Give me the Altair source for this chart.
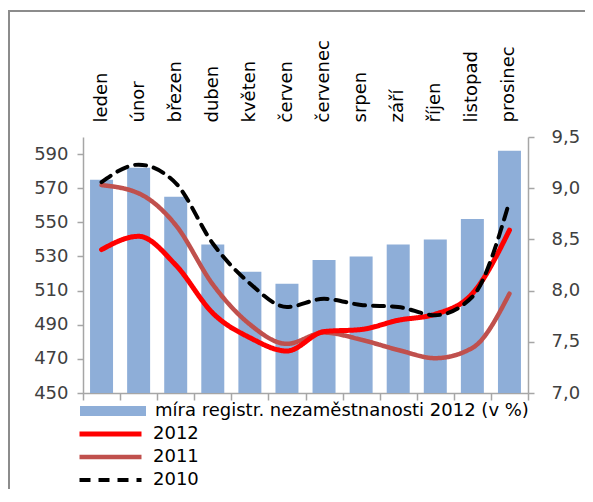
import altair as alt
import pandas as pd

# ---- data ----
months = ["leden", "únor", "březen", "duben", "květen", "červen",
          "červenec", "srpen", "září", "říjen", "listopad", "prosinec"]
bar_values = [575, 582, 565, 537, 521, 514, 528, 530, 537, 540, 552, 592]
rate_2012 = [8.40, 8.53, 8.25, 7.78, 7.54, 7.41, 7.60, 7.62, 7.71, 7.77, 7.97, 8.59]
rate_2011 = [9.03, 8.95, 8.64, 8.06, 7.67, 7.48, 7.59, 7.52, 7.42, 7.34, 7.44, 7.97]
rate_2010 = [9.06, 9.23, 9.05, 8.46, 8.07, 7.84, 7.92, 7.86, 7.84, 7.76, 7.94, 8.87]
bar_label = "míra registr. nezaměstnanosti 2012 (v %)"
series_names = ["2012", "2011", "2010"]
left_ticks = [450, 470, 490, 510, 530, 550, 570, 590]
right_ticks = [7.0, 7.5, 8.0, 8.5, 9.0, 9.5]

df_bars = pd.DataFrame({"month": months, "value": bar_values, "series": bar_label})
df_lines = pd.DataFrame({
    "month": months * 3,
    "rate": rate_2012 + rate_2011 + rate_2010,
    "series": ["2012"] * 12 + ["2011"] * 12 + ["2010"] * 12,
})

FONT = "DejaVu Sans"
GRAY = "#A6A6A6"

x_scale = alt.Scale(domain=months, paddingInner=0, paddingOuter=0)

bars = alt.Chart(df_bars).mark_bar(width=alt.RelativeBandSize(0.62), clip=True).encode(
    x=alt.X("month:N", sort=months, scale=x_scale, title=None,
            axis=alt.Axis(orient="top", labelAngle=-90, labelAlign="left",
                          labelBaseline="middle", ticks=False, tickSize=0,
                          domain=False, labelPadding=15, labelColor="black")),
    y=alt.Y("value:Q", scale=alt.Scale(domain=[450, 600], nice=False, zero=False),
            title=None,
            axis=alt.Axis(orient="left", values=left_ticks, tickSize=6,
                          labelPadding=9, grid=False)),
    fill=alt.Fill("series:N",
                  scale=alt.Scale(domain=[bar_label], range=["#8EAED8"]),
                  legend=alt.Legend(orient="none", legendX=-3, legendY=264, title=None,
                                    symbolType="M-1,-0.15H1V0.15H-1Z", symbolSize=4356,
                                    symbolStrokeWidth=0, clipHeight=20, labelOffset=9,
                                    labelFontSize=18, labelFont=FONT, labelColor="black",
                                    labelLimit=600, padding=0)),
)

color_scale = alt.Scale(domain=series_names, range=["#FF0000", "#C0504D", "#000000"])
dash_scale = alt.Scale(domain=series_names, range=[[1, 0], [1, 0], [11, 8]])
width_scale = alt.Scale(domain=series_names, range=[5, 4, 4])
line_legend = alt.Legend(orient="none", legendX=-6, legendY=287, title=None,
                         symbolType="stroke", symbolSize=3844, clipHeight=20,
                         rowPadding=3, labelOffset=9, labelFontSize=18, labelFont=FONT,
                         labelColor="black", padding=0)
bottom_axis = alt.Axis(orient="bottom", labels=False, tickBand="extent", tickSize=7)
right_axis = alt.Axis(orient="right", values=right_ticks, tickSize=6, labelPadding=17,
                      grid=False,
                      labelExpr="replace(format(datum.value, '.1f'), '.', ',')")
y2_scale = alt.Scale(domain=[7, 9.5], nice=False, zero=False)


def line_layer(name):
    return alt.Chart(df_lines).transform_filter(alt.datum.series == name).mark_line(
        interpolate="monotone", strokeCap="round", strokeJoin="round"
    ).encode(
        x=alt.X("month:N", sort=months, scale=x_scale, title=None, axis=bottom_axis),
        y=alt.Y("rate:Q", scale=y2_scale, title=None, axis=right_axis),
        color=alt.Color("series:N", scale=color_scale, legend=line_legend),
        strokeDash=alt.StrokeDash("series:N", scale=dash_scale, legend=line_legend),
        strokeWidth=alt.StrokeWidth("series:N", scale=width_scale, legend=line_legend),
    )


lines = alt.layer(line_layer("2011"), line_layer("2012"), line_layer("2010"))

frame_src = pd.DataFrame({"k": [0]})
frame_h = alt.Chart(frame_src).mark_rule(color="#8C8C8C", strokeWidth=2).encode(
    x=alt.value(-75), x2=alt.value(700), y=alt.value(-126))
frame_v = alt.Chart(frame_src).mark_rule(color="#8C8C8C", strokeWidth=2).encode(
    x=alt.value(-74), y=alt.value(-126), y2=alt.value(500))

chart = alt.layer(frame_h, frame_v, bars, lines).resolve_scale(
    y="independent"
).resolve_axis(
    x="independent"
).properties(
    width=445, height=256,
    padding={"left": 75, "top": 129, "right": 57, "bottom": 96},
    autosize=alt.AutoSizeParams(type="none"),
).configure_view(stroke=None).configure_axis(
    labelFont=FONT, labelFontSize=18, labelColor="#404040",
    domainColor=GRAY, tickColor=GRAY, domainWidth=1.5, tickWidth=1.5,
)

chart.save("out.html", embed_options={"renderer": "svg", "actions": False})
